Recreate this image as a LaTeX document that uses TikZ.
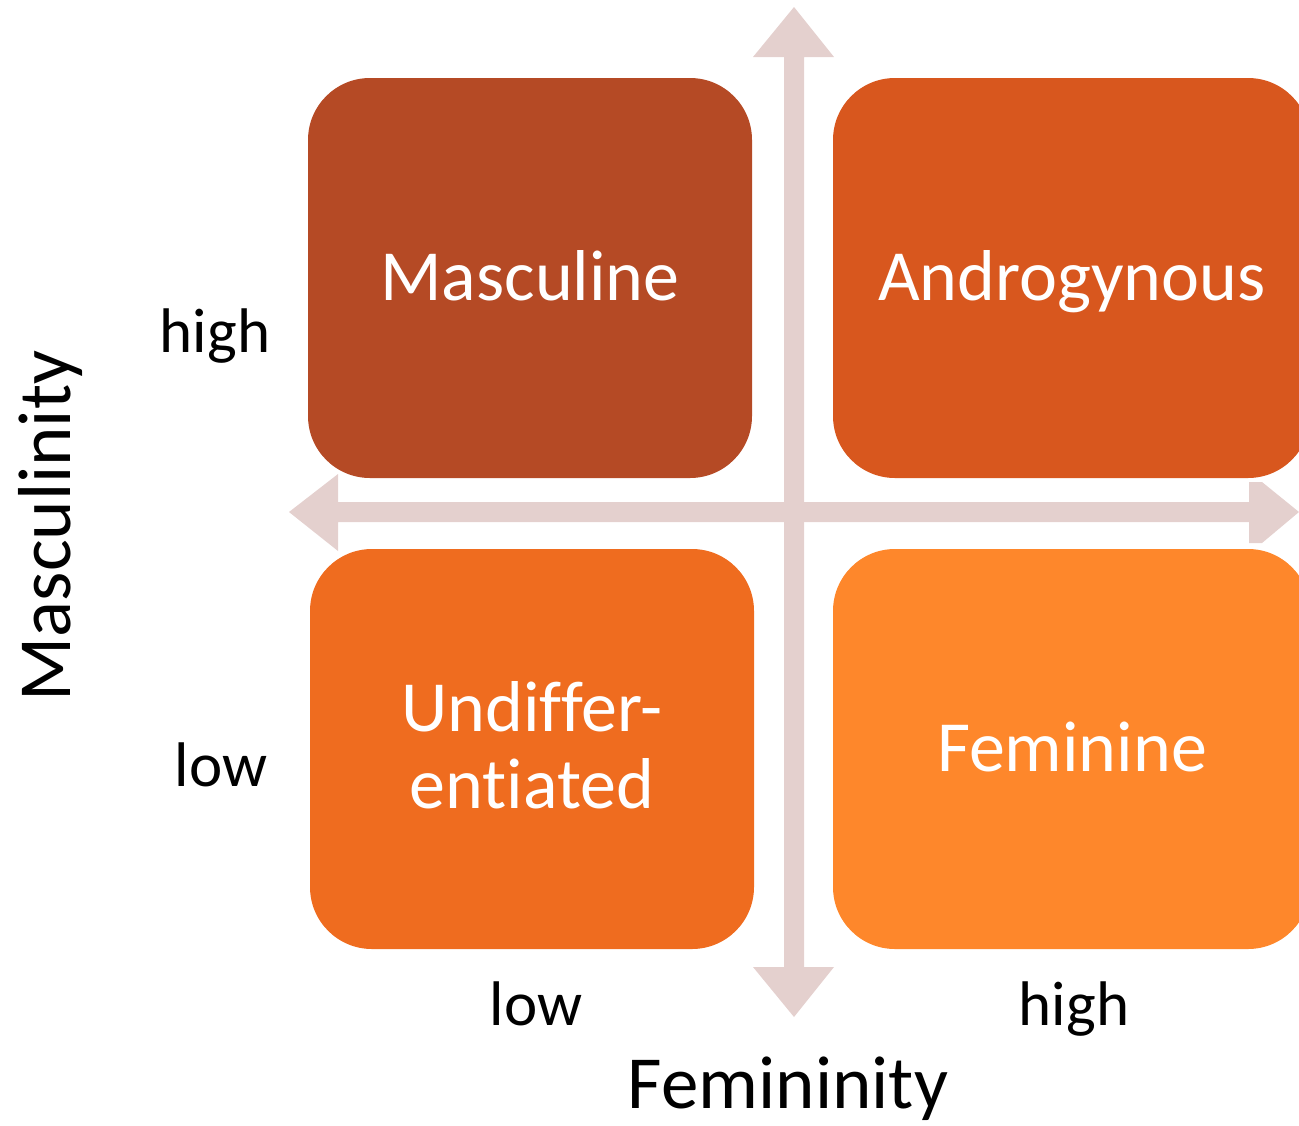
\documentclass[tikz,border=0pt]{standalone}
\usepackage{fontspec}
\setmainfont[Ligatures=CommonOff]{Carlito}
\definecolor{axiscol}{HTML}{E4D0CE}
\definecolor{cMasc}{HTML}{B54A25}
\definecolor{cAndro}{HTML}{D8571E}
\definecolor{cUndiff}{HTML}{EF6C1F}
\definecolor{cFem}{HTML}{FE872B}
\tikzset{
  quad/.style={rectangle, rounded corners=62pt, inner sep=0pt, minimum height=400pt},
  boxtext/.style={text=white, font=\fontsize{72}{81}\selectfont, anchor=base, align=center},
  lbl/.style={text=black, font=\fontsize{63}{70}\selectfont, anchor=base},
  axtitle/.style={text=black, font=\fontsize{75}{85}\selectfont, anchor=base},
}
\begin{document}
\begin{tikzpicture}[x=1pt,y=-1pt]
\useasboundingbox (0,0) rectangle (1299,1125);
\clip (0,0) rectangle (1299,1125);
% axes
\fill[axiscol] (784,57) -- (753,57) -- (794,7) -- (834,57) -- (804,57) -- (804,967) -- (834,967) -- (794,1017) -- (753,967) -- (784,967) -- cycle;
\fill[axiscol] (338,502) -- (338,474) -- (289,512) -- (338,551) -- (338,522) -- (1249,522) -- (1249,543) -- (1262,543) -- (1299,512) -- (1262,482) -- (1249,482) -- (1249,502) -- cycle;
% boxes
\node[quad, fill=cMasc, minimum width=444pt] (masc) at (530,278) {};
\node[quad, fill=cAndro, minimum width=477pt] (andro) at (1071.5,278) {};
\node[quad, fill=cUndiff, minimum width=444pt] (undiff) at (532,749) {};
\node[quad, fill=cFem, minimum width=477pt] (fem) at (1071.5,749) {};
% box texts
\node[boxtext] (tmasc) at (530,300) {Masculine};
\node[boxtext] (tandro) at (1072,300) {Androgynous};
\node[boxtext] (tundiff1) at (532,731) {Undiffer-};
\node[boxtext] (tundiff2) at (532,808) {entiated};
\node[boxtext] (tfem) at (1072,771) {Feminine};
% labels
\node[lbl] (mhigh) at (215,352) {high};
\node[lbl] (mlow) at (221,786) {low};
\node[lbl] (flow) at (536,1025) {low};
\node[lbl] (fhigh) at (1074,1025) {high};
\node[axtitle] (fem title) at (788,1108) {Femininity};
\node[axtitle, rotate=90] (masc title) at (70,526) {Masculinity};
\end{tikzpicture}
\end{document}
